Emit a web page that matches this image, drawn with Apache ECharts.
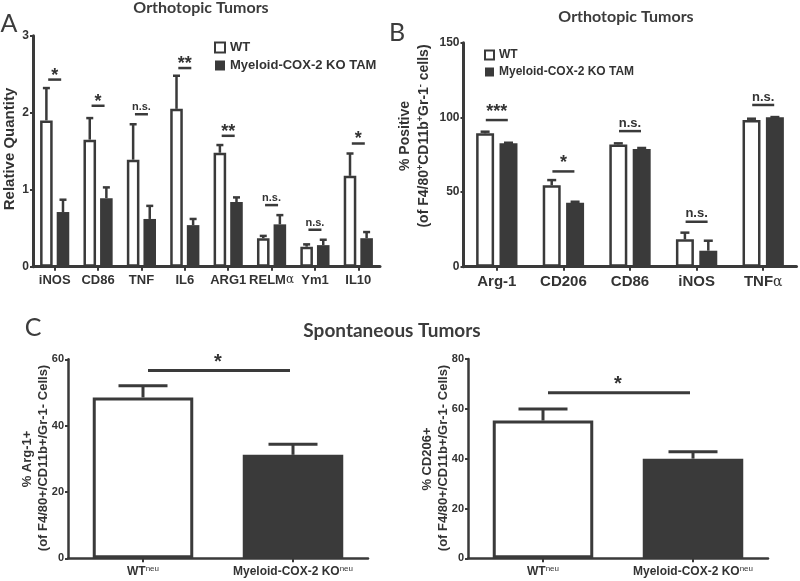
<!DOCTYPE html>
<html><head><meta charset="utf-8">
<script src="https://cdn.jsdelivr.net/npm/echarts@6/dist/echarts.min.js"></script>
<style>html,body{margin:0;padding:0;background:#fff}#c{width:800px;height:581px}</style>
</head><body><div id="c"></div>
<script>
// ---- Panel A data (Relative Quantity) ----
const catsA = ['iNOS','CD86','TNF','IL6','ARG1','RELMα','Ym1','IL10'];
const wtA = [1.90,1.65,1.39,2.05,1.48,0.37,0.26,1.18];
const wtErrA = [2.32,1.93,1.85,2.48,1.58,0.40,0.29,1.47];
const koA = [0.71,0.89,0.62,0.54,0.84,0.55,0.28,0.37];
const koErrA = [0.87,1.03,0.79,0.62,0.90,0.67,0.35,0.45];
const sigA = [2.43,2.09,1.98,2.58,1.70,0.80,0.48,1.60];
const sigLabelA = ['*','*','n.s.','**','**','n.s.','n.s.','*'];
const ticksA = {min:0, max:3, interval:1};

// ---- Panel B data (% Positive) ----
const catsB = ['Arg-1','CD206','CD86','iNOS','TNFα'];
const wtB = [89.3,54.5,81.9,18.3,98.2];
const wtErrB = [90.4,58.0,82.6,22.8,99.1];
const koB = [82.6,42.9,78.8,10.7,100.0];
const koErrB = [83.0,43.5,79.5,17.4,100.2];
const sigB = [98.2,63.8,90.8,30.1,108.3];
const sigLabelB = ['***','*','n.s.','n.s.','n.s.'];
const ticksB = {min:0, max:150, interval:50};

// ---- Panel C data (Spontaneous tumors) ----
const catsC = ['WT','Myeloid-COX-2 KO'];
const arg1C = [48.5, 31.2];
const arg1ErrC = [52.0, 34.4];
const arg1SigC = [56.6];
const cd206C = [55.3, 40.0];
const cd206ErrC = [59.9, 42.8];
const cd206SigC = [66.5];
const ticksC1 = {min:0, max:60, interval:20};
const ticksC2 = {min:0, max:80, interval:20};

const SER_WT = 'WT', SER_KO = 'Myeloid-COX-2 KO TAM';

const DARK = '#3a3a3a', TEXT = '#333333';
const SANS = 'Liberation Sans, Arial, sans-serif';
const TITLEF = 'Lato, sans-serif';

function xCat(idx, data, fs, margin, extra) {
  return Object.assign({
    type:'category', gridIndex:idx, data:data,
    axisLine:{show:true, lineStyle:{color:DARK, width:3}},
    axisTick:{show:true, alignWithLabel:true, length:4, lineStyle:{color:DARK, width:2}},
    axisLabel:{color:TEXT, fontSize:fs, fontWeight:'bold', fontFamily:SANS, margin:margin, interval:0,
      formatter: v => v.replace('α','{g|α}'),
      rich:{g:{fontFamily:'DejaVu Serif', fontWeight:'normal', fontSize:fs-1, color:TEXT}}},
    splitLine:{show:false}
  }, extra||{});
}
function yVal(idx, t, fs, lw) {
  return {
    type:'value', gridIndex:idx, min:t.min, max:t.max, interval:t.interval,
    axisLine:{show:true, lineStyle:{color:DARK, width:lw}},
    axisTick:{show:true, length:3, lineStyle:{color:DARK, width:2}},
    axisLabel:{color:TEXT, fontSize:fs, fontWeight:'bold', fontFamily:SANS, margin:4},
    splitLine:{show:false}
  };
}
function errBar(idx, vals, tops, side, wFrac, gapFrac, cap, lw) {
  return {
    type:'custom', xAxisIndex:idx, yAxisIndex:idx, z:5, silent:true,
    data: vals.map((v,i)=>[i, v, tops[i]]),
    renderItem:(params, api)=>{
      const band = api.size([1,0])[0];
      const w = band*wFrac;
      const off = side*(w + w*gapFrac)/2;
      const p0 = api.coord([api.value(0), api.value(1)]);
      const p1 = api.coord([api.value(0), api.value(2)]);
      const x = p0[0] + off;
      return {type:'group', children:[
        {type:'line', shape:{x1:x, y1:p0[1], x2:x, y2:p1[1]}, style:{stroke:DARK, lineWidth:lw}},
        {type:'line', shape:{x1:x-cap/2, y1:p1[1], x2:x+cap/2, y2:p1[1]}, style:{stroke:DARK, lineWidth:lw}}
      ]};
    }
  };
}
function sigSeries(idx, ys, labels, halfW, starFs, nsFs, starDy, lw) {
  return {
    type:'custom', xAxisIndex:idx, yAxisIndex:idx, z:6, silent:true,
    data: ys.map((v,i)=>[i, v]),
    renderItem:(params, api)=>{
      const p = api.coord([api.value(0), api.value(1)]);
      const lab = labels[params.dataIndex];
      const star = lab.charAt(0) === '*';
      return {type:'group', children:[
        {type:'line', shape:{x1:p[0]-halfW, y1:p[1], x2:p[0]+halfW, y2:p[1]}, style:{stroke:DARK, lineWidth:lw}},
        {type:'text', x:p[0], y: star ? p[1]+starDy : p[1]-1.5,
          style:{text:lab, textAlign:'center', textVerticalAlign: star ? 'middle' : 'bottom',
            fontSize: star ? starFs : nsFs, fontWeight:'bold', fontFamily:SANS, fill:TEXT}}
      ]};
    }
  };
}
function sigSpan(idx, ys, starFs, starDy, lw) {
  return {
    type:'custom', xAxisIndex:idx, yAxisIndex:idx, z:6, silent:true,
    data: ys.map(v=>[0, v]),
    renderItem:(params, api)=>{
      const a = api.coord([0, api.value(1)]);
      const b = api.coord([1, api.value(1)]);
      const cx = (a[0]+b[0])/2;
      return {type:'group', children:[
        {type:'line', shape:{x1:a[0]+5, y1:a[1], x2:b[0]-3, y2:a[1]}, style:{stroke:DARK, lineWidth:lw}},
        {type:'text', x:cx, y:a[1]+starDy,
          style:{text:'*', textAlign:'center', textVerticalAlign:'middle', fontSize:starFs, fontWeight:'bold', fontFamily:SANS, fill:TEXT}}
      ]};
    }
  };
}
function cBars(idx, vals) {
  return {
    type:'bar', xAxisIndex:idx, yAxisIndex:idx, barWidth:'67%', silent:true,
    data: vals.map((v,i)=> i===0
      ? {value:v, itemStyle:{color:'#ffffff', borderColor:DARK, borderWidth:3}}
      : {value:v, itemStyle:{color:DARK, borderColor:DARK, borderWidth:0}})
  };
}
function vtext(x, y, text, fs, rich) {
  return {type:'text', x:x, y:y, rotation:Math.PI/2,
    style:{text:text, textAlign:'center', textVerticalAlign:'middle', fontSize:fs, fontWeight:'bold', fontFamily:SANS, fill:TEXT, rich:rich||{}}};
}
function htext(x, y, text, fs, fam, weight) {
  return {type:'text', x:x, y:y,
    style:{text:text, textAlign:'center', textVerticalAlign:'middle', fontSize:fs, fontWeight:weight, fontFamily:fam, fill:'#3c3c3c'}};
}

const supRich = {sup:{fontSize:9, fontWeight:'bold', fontFamily:SANS, color:TEXT, padding:[0,0,7,0]}};
const cLabel = {
  color:TEXT, fontSize:12, fontWeight:'bold', fontFamily:SANS, margin:6, interval:0,
  formatter: v => v + '{s|neu}',
  rich:{s:{fontSize:8, fontWeight:'normal', fontFamily:SANS, color:TEXT, padding:[0,0,6,0]}}
};

const legendCommon = {
  orient:'vertical', icon:'rect', selectedMode:false,
  data:[{name:SER_WT, itemStyle:{color:'#fff', borderColor:DARK, borderWidth:2}},
        {name:SER_KO, itemStyle:{color:DARK, borderWidth:0}}]
};

const option = {
  animation:false,
  backgroundColor:'#ffffff',
  grid:[
    {left:33, top:35.7, width:347, height:231, outerBoundsMode:'none'},
    {left:463.5, top:42.7, width:333, height:224, outerBoundsMode:'none'},
    {left:68, top:359.3, width:300, height:199, outerBoundsMode:'none'},
    {left:468, top:359, width:300, height:199.3, outerBoundsMode:'none'}
  ],
  legend:[
    Object.assign({left:209, top:36, itemWidth:10, itemHeight:10, itemGap:5,
      textStyle:{color:TEXT, fontSize:13, fontWeight:'bold', fontFamily:SANS}}, legendCommon),
    Object.assign({left:479, top:44, itemWidth:9, itemHeight:9, itemGap:5,
      textStyle:{color:TEXT, fontSize:12, fontWeight:'bold', fontFamily:SANS}}, legendCommon)
  ],
  xAxis:[
    xCat(0, catsA, 13, 7),
    xCat(1, catsB, 15, 8),
    xCat(2, catsC, 12, 6, {axisLabel:cLabel, axisLine:{show:true, lineStyle:{color:DARK, width:2.5}}}),
    xCat(3, catsC, 12, 6, {axisLabel:cLabel, axisLine:{show:true, lineStyle:{color:DARK, width:2.5}}})
  ],
  yAxis:[
    yVal(0, ticksA, 12, 3),
    yVal(1, ticksB, 12, 3),
    yVal(2, ticksC1, 11, 2.5),
    yVal(3, ticksC2, 11, 2.5)
  ],
  series:[
    {type:'bar', name:SER_WT, xAxisIndex:0, yAxisIndex:0, data:wtA, barWidth:'29%', barGap:'32%', silent:true,
      itemStyle:{color:'#ffffff', borderColor:DARK, borderWidth:2.5}},
    {type:'bar', name:SER_KO, xAxisIndex:0, yAxisIndex:0, data:koA, barWidth:'29%', barGap:'32%', silent:true,
      itemStyle:{color:DARK}},
    errBar(0, wtA, wtErrA, -1, 0.29, 0.32, 7, 2.5),
    errBar(0, koA, koErrA, 1, 0.29, 0.32, 7, 2.5),
    sigSeries(0, sigA, sigLabelA, 6.5, 18, 11, -4, 2.5),

    {type:'bar', name:SER_WT, xAxisIndex:1, yAxisIndex:1, data:wtB, barWidth:'27%', barGap:'30%', silent:true,
      itemStyle:{color:'#ffffff', borderColor:DARK, borderWidth:2.5}},
    {type:'bar', name:SER_KO, xAxisIndex:1, yAxisIndex:1, data:koB, barWidth:'27%', barGap:'30%', silent:true,
      itemStyle:{color:DARK}},
    errBar(1, wtB, wtErrB, -1, 0.27, 0.30, 9, 2.5),
    errBar(1, koB, koErrB, 1, 0.27, 0.30, 9, 2.5),
    sigSeries(1, sigB, sigLabelB, 11, 18, 13, -8, 2.5),

    cBars(2, arg1C),
    errBar(2, arg1C, arg1ErrC, 0, 0.67, 0, 49, 3),
    sigSpan(2, arg1SigC, 20, -8, 3),
    cBars(3, cd206C),
    errBar(3, cd206C, cd206ErrC, 0, 0.67, 0, 49, 3),
    sigSpan(3, cd206SigC, 20, -8, 3)
  ],
  graphic:[
    htext(201, 8, 'Orthotopic Tumors', 16, TITLEF, 'bold'),
    htext(626, 17, 'Orthotopic Tumors', 16, TITLEF, 'bold'),
    htext(392, 331, 'Spontaneous Tumors', 19, TITLEF, 'bold'),
    htext(9, 24, 'A', 25, TITLEF, 'normal'),
    htext(397, 33, 'B', 25, TITLEF, 'normal'),
    htext(33, 328, 'C', 25, TITLEF, 'normal'),
    vtext(10, 149, 'Relative Quantity', 15),
    vtext(405, 136, '% Positive', 14),
    vtext(424, 136, '(of F4/80{sup|+}CD11b{sup|+}Gr-1{sup|-} cells)', 14, supRich),
    vtext(27, 459, '% Arg-1+', 13),
    vtext(43, 458, '(of F4/80+/CD11b+/Gr-1- Cells)', 13),
    vtext(427, 459, '% CD206+', 13),
    vtext(443, 458, '(of F4/80+/CD11b+/Gr-1- Cells)', 13)
  ]
};

const chart = echarts.init(document.getElementById('c'), null, {renderer:'canvas'});
chart.setOption(option);
</script></body></html>
